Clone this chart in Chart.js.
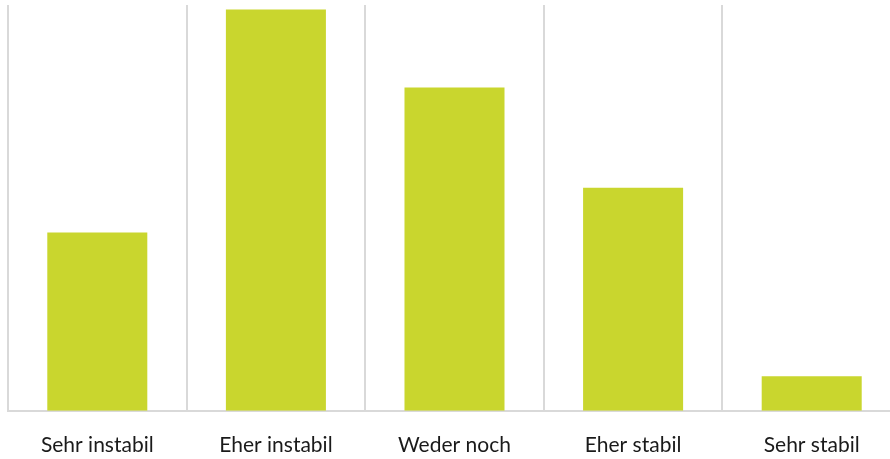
<!DOCTYPE html>
<html lang="de">
<head>
    <meta charset="UTF-8">
    <title>Stabilität</title>
    <script src="https://cdn.jsdelivr.net/npm/chart.js"></script>
    <style>
        html, body { margin: 0; padding: 0; background: #fff; overflow: hidden; }
        #wrap { width: 901px; height: 480px; }
    </style>
</head>
<body>
    <div id="wrap"><canvas id="chart"></canvas></div>
    <script>
        const categories = ['Sehr instabil', 'Eher instabil', 'Weder noch', 'Eher stabil', 'Sehr stabil'];
        const values = [16, 36, 29, 20, 3.1];
        const yMax = 36.4;

        new Chart(document.getElementById('chart'), {
            type: 'bar',
            data: {
                labels: categories,
                datasets: [{
                    data: values,
                    backgroundColor: '#c9d62e',
                    barPercentage: 1,
                    categoryPercentage: 0.56
                }]
            },
            options: {
                responsive: true,
                maintainAspectRatio: false,
                animation: false,
                layout: { padding: { top: 5, left: 8, right: 0, bottom: 0 } },
                plugins: { legend: { display: false }, tooltip: { enabled: false } },
                scales: {
                    x: {
                        grid: { color: '#d9d9d9', lineWidth: 2, drawTicks: false, offset: true },
                        border: { color: '#d9d9d9', width: 2 },
                        ticks: {
                            color: '#1a1a1a',
                            padding: 22,
                            font: { family: 'Lato', size: 21 },
                            maxRotation: 0
                        }
                    },
                    y: { display: false, min: 0, max: yMax }
                }
            }
        });
    </script>
</body>
</html>
